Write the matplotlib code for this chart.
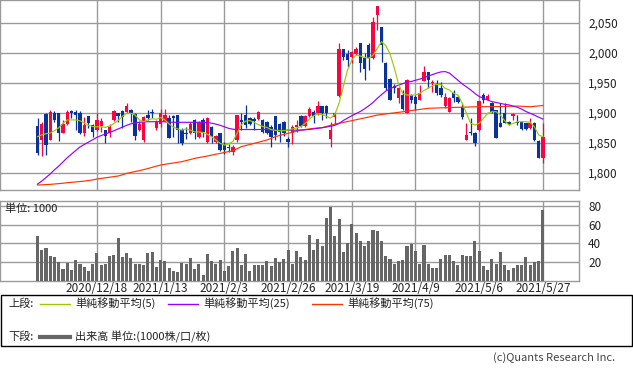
import matplotlib
matplotlib.use("Agg")
import matplotlib.pyplot as plt
from matplotlib.patches import Rectangle
from matplotlib.lines import Line2D

plt.rcParams['font.family'] = ['Noto Sans CJK JP', 'DejaVu Sans']

# ---------------- data ----------------
opens = [1878, 1855, 1898, 1855, 1899, 1899, 1867, 1882, 1903, 1902,
         1899, 1867, 1894, 1879, 1872, 1878, 1871, 1866, 1888, 1899,
         1903, 1902, 1904, 1898, 1871, 1855, 1896, 1902, 1874, 1882,
         1887, 1892, 1894, 1896, 1872, 1867, 1866, 1888, 1860, 1888,
         1852, 1876, 1852, 1866, 1846, 1843, 1835, 1855, 1888, 1896,
         1892, 1890, 1890, 1888, 1885, 1877, 1894, 1882, 1885, 1857,
         1866, 1876, 1894, 1878, 1894, 1900.6, 1900, 1911, 1911, 1855.6,
         1893.4, 1927.8, 2005.6, 1997.8, 1993.4, 1997.8, 2015.6, 1990.6, 2012.8, 1990.6,
         2062.8, 2043.4, 1982.2, 1956, 1944.5, 1924, 1929.5, 1900, 1929.5, 1926.7,
         1921, 1953.4, 1968.4, 1949, 1947.8, 1940.6, 1911, 1901.7, 1933.4, 1926.7,
         1910, 1854.5, 1868.4, 1866.7, 1871.1, 1929.5, 1921.1, 1915.6, 1904.5, 1883.4,
         1900, 1885, 1894.5, 1885, 1885, 1882.2, 1873.9, 1883.4, 1853.4, 1823.9]
highs = [1891, 1884, 1899, 1905, 1903, 1900, 1888, 1904, 1905, 1905,
         1903, 1893, 1895, 1882, 1899, 1891, 1872, 1881, 1904, 1900,
         1904, 1916, 1907, 1899, 1886, 1895, 1904, 1907, 1888, 1907,
         1907, 1896, 1896, 1897, 1874, 1877, 1885, 1889, 1887, 1891,
         1893, 1878, 1863, 1867, 1851, 1848, 1846, 1897, 1899, 1913,
         1893, 1893, 1903, 1889, 1887, 1879, 1895, 1883, 1886, 1860,
         1880, 1888, 1896, 1897, 1910, 1904.5, 1919.5, 1911, 1913, 1885,
         1900, 2015.6, 2006, 2004.5, 2002, 2010, 2016, 1999, 2015.6, 2060,
         2078, 2043.4, 1985, 1957, 1948, 1943.4, 1937.8, 1955.6, 1930.6, 1929.5,
         1946, 1977.8, 1968.4, 1954.5, 1954.5, 1951.7, 1932.2, 1925.6, 1937.8, 1929.5,
         1915.6, 1882.2, 1890.6, 1868.4, 1919.5, 1932.2, 1930.6, 1918.4, 1904.5, 1915.6,
         1915.6, 1886.7, 1898.9, 1896.1, 1886.7, 1882.2, 1890.6, 1885, 1854.5, 1883.4]
lows = [1830, 1828, 1829, 1854, 1885, 1853, 1866, 1880, 1891, 1871,
        1864, 1861, 1874, 1860, 1869, 1868, 1849, 1860, 1887, 1885,
        1874, 1899, 1885, 1855, 1869, 1851, 1888, 1891, 1871, 1876,
        1885, 1858, 1860, 1850, 1846, 1857, 1865, 1857, 1858, 1860,
        1850, 1850, 1850, 1837, 1832, 1835, 1830, 1852, 1871, 1874,
        1880, 1871, 1888, 1866, 1864, 1843, 1855, 1851, 1862, 1843,
        1848, 1868, 1876, 1876, 1893, 1883.4, 1896, 1888, 1890.6, 1843.4,
        1882, 1926.7, 1987.8, 1976.7, 1982, 1996, 1968.4, 1954.5, 1971, 1989,
        2037.8, 1985, 1937.8, 1921, 1932, 1915.6, 1904.5, 1900, 1915.6, 1904.5,
        1921, 1953, 1940.6, 1935, 1929.5, 1926.7, 1907.3, 1901.7, 1918.4, 1915.6,
        1888.9, 1854.5, 1862.8, 1844.5, 1870, 1915.6, 1921.1, 1898.9, 1857.2, 1875.6,
        1882.2, 1879.5, 1887.8, 1879.5, 1871.1, 1871.1, 1872.2, 1853.4, 1823.9, 1815.6]
closes = [1833, 1882, 1846, 1902, 1888, 1866, 1881, 1902, 1899, 1897,
          1866, 1880, 1883, 1868, 1888, 1887, 1861, 1877, 1903, 1894,
          1893, 1911, 1899, 1862, 1881, 1893, 1892, 1899, 1884, 1899,
          1897, 1858, 1891, 1871, 1850, 1865, 1882, 1866, 1885, 1868,
          1891, 1861, 1862, 1838, 1838, 1841, 1843, 1896, 1885, 1879,
          1882, 1886, 1902, 1868, 1866, 1860, 1863, 1868, 1866, 1852,
          1877, 1880, 1878, 1894, 1907, 1894.5, 1911, 1900, 1899, 1871,
          1900, 2005.6, 1993.4, 1987.8, 2001.7, 2005.6, 1982.2, 1972.8, 1990.6, 2051.7,
          2077.8, 2012.8, 1940.6, 1921, 1940.6, 1941.7, 1905.6, 1954.5, 1921, 1914.5,
          1933.4, 1968.4, 1954.5, 1951.7, 1932.2, 1929.5, 1925.6, 1923.9, 1923.9, 1918.4,
          1892.2, 1862.8, 1865.6, 1850, 1919.5, 1921.1, 1927.8, 1901.7, 1857.2, 1876.7,
          1883.4, 1881.1, 1897.8, 1882.2, 1872.2, 1872.2, 1883.4, 1854.5, 1823.9, 1860]
volumes = [48, 33, 35, 26.5, 25.4, 20, 12.5, 19, 11.4, 22,
           18, 14.6, 10.3, 18, 29.7, 16.8, 18, 26.5, 27.6, 46,
           25.4, 29.7, 24.3, 18, 18, 16.8, 29.7, 30.8, 14.6, 22,
           21, 13.5, 10.3, 9.3, 19, 18, 24.3, 12.5, 18, 6,
           28.7, 21, 18, 22, 10.3, 15.7, 32, 35, 16.8, 28.7,
           10.3, 16.8, 16.8, 16.8, 21, 15.7, 24.3, 20, 23, 33,
           18, 32, 25.4, 22, 49, 33, 45, 37, 67.5, 79,
           48, 66, 30.8, 40.5, 61, 51, 42.7, 37, 42.7, 54.5,
           53.4, 42.7, 26.5, 23, 18, 21, 22, 37, 39.4, 32,
           18, 38.4, 18, 13.5, 13.5, 23, 27.6, 27.6, 21, 16.8,
           27.6, 26.5, 26.5, 42.7, 32, 15.7, 11.4, 23, 18, 30.8,
           16.8, 11.4, 13.5, 16.8, 16.8, 25.4, 16.8, 20, 21, 76]
ma5 = [1860, 1863, 1865, 1866, 1870, 1875, 1882, 1888, 1888, 1888,
       1886.5, 1883, 1879, 1877, 1876.5, 1876.5, 1875.5, 1878, 1882, 1887,
       1894, 1899, 1899, 1896, 1888, 1885, 1888, 1890, 1889, 1892,
       1888, 1881, 1876, 1873, 1871, 1873, 1871, 1868, 1868, 1867,
       1864, 1860, 1854.5, 1849, 1846, 1848, 1852, 1866, 1880, 1886,
       1887, 1884, 1880, 1877, 1875.5, 1872, 1870.5, 1870, 1870, 1871,
       1873, 1874.5, 1877, 1882, 1889, 1895, 1898, 1897, 1894, 1891,
       1897, 1915.6, 1943.4, 1971, 1987.8, 1996, 1994.5, 1992, 1990.6, 1996,
       2007, 2018.4, 2012, 1998, 1975, 1948, 1932, 1929.5, 1929, 1929.5,
       1932, 1937, 1941, 1945, 1947, 1947, 1940.6, 1937.8, 1932.2, 1929.5,
       1915.6, 1899, 1882.2, 1879.5, 1882.2, 1890.6, 1899, 1901.7, 1901.7, 1896,
       1886.7, 1879.5, 1882.2, 1885, 1885, 1885, 1883.9, 1876.7, 1862.8, 1860]
ma25 = [1781, 1786, 1792, 1798, 1805, 1811, 1818, 1825, 1831, 1837,
        1843, 1847, 1851, 1855, 1859, 1862, 1864.5, 1867, 1870, 1873,
        1876, 1879, 1881.5, 1883, 1884, 1884.5, 1885, 1885, 1885, 1885,
        1885, 1884.5, 1884, 1884, 1884, 1884, 1884, 1884, 1884, 1884,
        1883.5, 1882.5, 1881, 1879, 1876.5, 1874, 1872.5, 1872, 1872, 1872,
        1872, 1872, 1872, 1872, 1872, 1871.5, 1871, 1871, 1871, 1871,
        1871, 1871, 1871, 1871.5, 1872, 1873, 1874, 1875, 1876, 1877.5,
        1879, 1882, 1887, 1891, 1895, 1898.5, 1902, 1906.5, 1911.5, 1917,
        1924, 1930, 1936, 1940, 1943, 1946, 1948.5, 1950.5, 1952, 1954,
        1956, 1958.5, 1961, 1963.5, 1966, 1968, 1968.5, 1966, 1960, 1954,
        1948, 1943, 1938, 1932, 1927, 1924, 1921, 1918.5, 1917, 1915.5,
        1914, 1913, 1911, 1909, 1906, 1902, 1899, 1896, 1892.5, 1889.5]
ma75 = [1779.5, 1779.8, 1780.2, 1780.6, 1781.2, 1781.8, 1782.5, 1783.3, 1784.0, 1784.6,
        1785.3, 1786.0, 1787.0, 1788.0, 1789.5, 1790.5, 1791.5, 1792.5, 1793.5, 1794.5,
        1796.5, 1798.9, 1800.5, 1802.0, 1803.4, 1805.2, 1807.0, 1809.0, 1811.0, 1812.8,
        1814.0, 1815.2, 1816.2, 1817.3, 1818.4, 1820.2, 1822.0, 1823.9, 1825.2, 1826.5,
        1827.8, 1829.3, 1830.8, 1832.2, 1833.7, 1835.2, 1836.7, 1840.0, 1843.4, 1845.2,
        1847.0, 1848.9, 1850.7, 1852.6, 1854.5, 1857.2, 1860.0, 1862.0, 1863.8, 1865.6,
        1867.4, 1869.2, 1871.1, 1872.0, 1873.0, 1873.9, 1874.5, 1875.0, 1877.0, 1879.0,
        1881.0, 1882.4, 1883.8, 1885.3, 1886.7, 1888.3, 1889.8, 1891.3, 1892.8, 1894.4,
        1896.0, 1897.0, 1897.9, 1898.8, 1899.7, 1900.6, 1901.6, 1902.6, 1903.5, 1904.5,
        1905.4, 1906.4, 1907.3, 1907.6, 1907.8, 1908.1, 1908.3, 1908.5, 1908.8, 1909.0,
        1909.2, 1909.4, 1909.6, 1909.8, 1910.0, 1910.0, 1910.0, 1910.0, 1910.2, 1910.3,
        1910.5, 1910.7, 1910.8, 1911.0, 1910.7, 1910.3, 1910.0, 1910.7, 1911.3, 1912.0]
tick_labels = ["2020/12/18", "2021/1/13", "2021/2/3", "2021/2/26",
               "2021/3/19", "2021/4/9", "2021/5/6", "2021/5/27"]
tick_days = [14, 29, 44, 59, 74, 89, 104, 119]   # trading-day index of each label
price_ticks = [1800, 1850, 1900, 1950, 2000, 2050]
vol_ticks = [20, 40, 60, 80]

# ---------------- figure ----------------
W, H = 633, 372
fig = plt.figure(figsize=(W / 100, H / 100), dpi=100)
fig.patch.set_facecolor('white')


def fx(px):
    return px / W


def fy(py):
    return 1 - py / H


GRID = '#9a9a9a'
TXT = '#222222'
UP = '#ff0040'
DOWN = '#0a3399'
FS_TICK = 8.5
FS_LEG = 8

ax = fig.add_axes([0, fy(190), fx(579), 190 / H])
axv = fig.add_axes([0, fy(281), fx(579), 80 / H])

n = len(closes)
xs = list(range(n))
cols = [UP if c >= o else DOWN for o, c in zip(opens, closes)]
bottoms = [min(o, c) for o, c in zip(opens, closes)]
heights = [max(abs(c - o), 1.2) for o, c in zip(opens, closes)]

ax.vlines(xs, lows, highs, colors=cols, linewidth=0.9, zorder=3)
ax.bar(xs, heights, bottom=bottoms, width=0.8, color=cols, linewidth=0, zorder=4)
ax.plot(xs, ma75, color='#ff3300', lw=0.85, zorder=5)
ax.plot(xs, ma25, color='#9900ff', lw=0.85, zorder=5)
ax.plot(xs, ma5, color='#99cc00', lw=0.85, zorder=6)

for a in (ax, axv):
    a.set_xlim(-8.83, 127.5)
    a.set_xticks(tick_days)
    a.grid(True, color=GRID, lw=1.0)
    a.set_axisbelow(True)
    for s in a.spines.values():
        s.set_color(GRID)
        s.set_linewidth(1.0)
    a.yaxis.tick_right()
    a.tick_params(axis='y', length=0, pad=6.5, labelsize=FS_TICK, labelcolor=TXT)

ax.set_ylim(1771.2, 2087.8)
ax.set_yticks(price_ticks)
ax.set_yticklabels([f"{v:,}" for v in price_ticks])
ax.tick_params(axis='x', length=0, labelbottom=False)

axv.bar(xs, volumes, width=0.72, color='#666666', linewidth=0, zorder=3)
axv.set_ylim(-0.4, 85.7)
axv.set_yticks(vol_ticks)
axv.set_yticklabels([str(v) for v in vol_ticks])
axv.set_xticklabels(tick_labels)
axv.tick_params(axis='x', length=0, pad=1.0, labelsize=FS_TICK, labelcolor=TXT)

fig.text(fx(5), fy(209), '単位: 1000', fontsize=FS_LEG, color=TXT, va='center', ha='left')

# ---------------- legend box ----------------
fig.add_artist(Rectangle((fx(0.5), fy(346)), fx(631.5), 51 / H, transform=fig.transFigure,
                         fill=False, edgecolor='black', linewidth=1.0))
r1, r2 = 303.5, 337
fig.text(fx(8), fy(r1), '上段:', fontsize=FS_LEG, color=TXT, va='center', ha='left')
legend_items = [('#99cc00', '単純移動平均(5)', 40),
                ('#9900ff', '単純移動平均(25)', 168),
                ('#ff3300', '単純移動平均(75)', 312)]
for c, lab, x0 in legend_items:
    fig.add_artist(Line2D([fx(x0), fx(x0 + 30)], [fy(r1), fy(r1)], color=c, lw=1.0,
                          transform=fig.transFigure))
    fig.text(fx(x0 + 35), fy(r1), lab, fontsize=FS_LEG, color=TXT, va='center', ha='left')
fig.text(fx(8), fy(r2), '下段:', fontsize=FS_LEG, color=TXT, va='center', ha='left')
fig.add_artist(Line2D([fx(40), fx(70)], [fy(r2), fy(r2)], color='#666666', lw=3.0,
                      transform=fig.transFigure))
fig.text(fx(75), fy(r2), '出来高 単位:(1000株/口/枚)', fontsize=FS_LEG, color=TXT,
         va='center', ha='left')

fig.text(fx(615), fy(358), '(c)Quants Research Inc.', fontsize=FS_LEG, color='#444444',
         va='center', ha='right')

fig.savefig('out.png', dpi=100, facecolor='white')
